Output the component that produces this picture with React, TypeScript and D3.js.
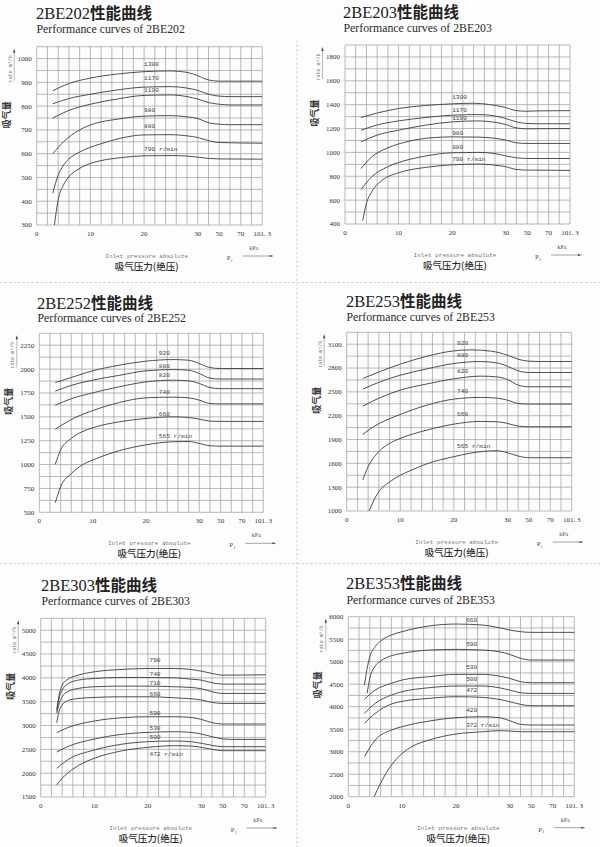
import React from "react";
import * as d3 from "d3";

type Pt = [number, number];

// --- shared axis data ---
const X_TICKS = [0, 10, 20, 30, 50, 70, 101.3];
const X_GRID = [...d3.range(0, 31, 2), 40, 50, 60, 70, 85.65, 101.3];
const X_BREAKS = [0, 30, 50, 70, 101.3];
const X_UNITS = [0, 15, 17, 19, 21];

// --- 2BE202 ---
const P202_SPEEDS = ["1300", "1170", "1100", "980", "880", "790 r/min"];
const P202_TICKS = [300, 400, 500, 600, 700, 800, 900, 1000];
const P202_LABEL_AT = [976, 921, 868, 786, 716, 619];
const P202_CURVES: Pt[][] = [
  [[3, 865], [6, 895], [10, 918], [15, 935], [20, 945], [25, 948], [28, 942], [30, 928], [40, 910], [50, 905], [60, 905], [101.3, 905]],
  [[3, 810], [6, 832], [10, 850], [15, 868], [20, 880], [25, 882], [28, 876], [30, 866], [40, 850], [50, 842], [60, 840], [101.3, 840]],
  [[3, 750], [6, 782], [10, 808], [15, 830], [20, 845], [25, 847], [28, 840], [30, 830], [40, 815], [50, 808], [60, 805], [101.3, 805]],
  [[3, 600], [5, 650], [8, 700], [11, 728], [15, 745], [20, 758], [25, 760], [28, 755], [30, 748], [40, 730], [50, 724], [60, 722], [101.3, 722]],
  [[3, 434], [4, 510], [5, 552], [6, 578], [8, 607], [10, 627], [12, 642], [16, 667], [20, 679], [25, 680], [28, 675], [30, 668], [40, 655], [50, 647], [101.3, 644]],
  [[3.3, 300], [4, 406], [5, 469], [6, 503], [8, 538], [10, 559], [12, 571], [16, 584], [20, 591], [25, 592], [28, 590], [30, 585], [40, 580], [50, 578], [101.3, 577]],
];

// --- 2BE203 ---
const P203_SPEEDS = ["1300", "1170", "1100", "980", "880", "790 r/min"];
const P203_TICKS = [400, 600, 800, 1000, 1200, 1400, 1600, 1800];
const P203_LABEL_AT = [1465, 1359, 1292, 1164, 1047, 949];
const P203_CURVES: Pt[][] = [
  [[3, 1292], [6, 1330], [10, 1368], [15, 1393], [20, 1407], [24, 1412], [27, 1401], [30, 1376], [40, 1350], [50, 1345], [60, 1348], [101.3, 1350]],
  [[3, 1186], [6, 1230], [10, 1264], [15, 1292], [20, 1312], [25, 1317], [28, 1305], [30, 1284], [40, 1256], [50, 1242], [60, 1240], [101.3, 1240]],
  [[3, 1089], [6, 1145], [10, 1186], [15, 1228], [20, 1256], [25, 1264], [28, 1252], [30, 1234], [40, 1205], [50, 1198], [101.3, 1200]],
  [[3, 865], [5, 963], [8, 1038], [12, 1094], [16, 1122], [20, 1130], [25, 1128], [28, 1118], [30, 1103], [40, 1080], [50, 1075], [101.3, 1075]],
  [[3, 690], [5, 796], [8, 880], [12, 941], [16, 977], [20, 997], [25, 1000], [28, 990], [30, 971], [40, 955], [50, 949], [101.3, 949]],
  [[3.3, 428], [4, 573], [5, 670], [7, 768], [10, 829], [15, 874], [20, 896], [25, 902], [28, 893], [30, 880], [40, 857], [50, 852], [101.3, 849]],
];

// --- 2BE252 ---
const P252_SPEEDS = ["920", "880", "820", "740", "660", "565 r/min"];
const P252_TICKS = [500, 750, 1000, 1250, 1500, 1750, 2000, 2250];
const P252_LABEL_AT = [2173, 2037, 1940, 1762, 1535, 1302];
const P252_CURVES: Pt[][] = [
  [[3, 1859], [6, 1912], [10, 1982], [15, 2041], [20, 2083], [25, 2100], [28, 2093], [30, 2058], [40, 2016], [50, 2006], [101.3, 2006]],
  [[3, 1769], [6, 1830], [10, 1884], [15, 1935], [20, 1982], [25, 1995], [28, 1988], [30, 1954], [40, 1905], [50, 1896], [101.3, 1896]],
  [[3, 1622], [6, 1690], [10, 1751], [15, 1815], [20, 1866], [25, 1884], [28, 1877], [30, 1849], [40, 1807], [50, 1795], [101.3, 1795]],
  [[3, 1371], [5, 1440], [7, 1500], [10, 1565], [15, 1650], [20, 1699], [25, 1706], [28, 1699], [30, 1675], [40, 1640], [50, 1636], [101.3, 1636]],
  [[3, 1002], [4, 1152], [6, 1274], [8, 1343], [10, 1385], [15, 1448], [20, 1483], [25, 1500], [28, 1493], [30, 1476], [40, 1455], [50, 1452], [101.3, 1452]],
  [[3, 601], [4, 768], [6, 905], [8, 995], [10, 1047], [15, 1145], [20, 1207], [25, 1239], [28, 1242], [30, 1221], [40, 1197], [50, 1193], [101.3, 1193]],
];

// --- 2BE253 ---
const P253_SPEEDS = ["920", "880", "820", "740", "660", "565 r/min"];
const P253_TICKS = [1000, 1300, 1600, 1900, 2200, 2500, 2800, 3100];
const P253_LABEL_AT = [3121, 2962, 2765, 2513, 2220, 1822];
const P253_CURVES: Pt[][] = [
  [[3, 2668], [6, 2750], [10, 2849], [15, 2949], [20, 3016], [23, 3029], [27, 3012], [30, 2962], [40, 2911], [50, 2886], [60, 2882], [101.3, 2882]],
  [[3, 2534], [6, 2620], [10, 2710], [15, 2790], [20, 2857], [25, 2882], [28, 2865], [30, 2823], [40, 2765], [50, 2744], [101.3, 2744]],
  [[3, 2321], [6, 2420], [10, 2522], [15, 2600], [20, 2664], [25, 2698], [28, 2689], [30, 2656], [40, 2585], [50, 2564], [101.3, 2564]],
  [[3, 1965], [5, 2061], [10, 2216], [15, 2333], [20, 2409], [25, 2430], [28, 2421], [30, 2396], [40, 2354], [50, 2346], [101.3, 2346]],
  [[3, 1391], [4, 1558], [6, 1747], [8, 1851], [10, 1914], [15, 2019], [20, 2094], [25, 2128], [28, 2124], [30, 2103], [40, 2069], [50, 2061], [101.3, 2061]],
  [[4.2, 1000], [5, 1125], [6, 1244], [8, 1365], [10, 1450], [12, 1512], [15, 1595], [20, 1684], [25, 1747], [28, 1759], [30, 1734], [40, 1692], [50, 1671], [101.3, 1671]],
];

// --- 2BE303 ---
const P303_SPEEDS = ["790", "740", "710", "660", "590", "530", "500", "472 r/min"];
const P303_TICKS = [1500, 2000, 2500, 3000, 3500, 4000, 4500, 5000];
const P303_LABEL_AT = [4372, 4092, 3904, 3659, 3268, 2954, 2765, 2402];
const P303_CURVES: Pt[][] = [
  [[3, 3340], [3.5, 3673], [4, 3848], [5, 3966], [7, 4057], [10, 4127], [15, 4176], [20, 4197], [25, 4197], [28, 4176], [30, 4141], [40, 4092], [50, 4057], [101.3, 4065]],
  [[3, 3300], [3.5, 3603], [4, 3743], [5, 3869], [7, 3953], [10, 3987], [15, 4008], [20, 4008], [25, 4001], [28, 3973], [30, 3953], [40, 3897], [50, 3869], [101.3, 3869]],
  [[3, 3260], [3.5, 3480], [4, 3603], [5, 3708], [7, 3778], [10, 3813], [15, 3827], [20, 3827], [25, 3813], [28, 3799], [30, 3771], [40, 3708], [50, 3673], [101.3, 3673]],
  [[3, 3059], [3.5, 3324], [4, 3429], [5, 3520], [7, 3568], [10, 3589], [15, 3603], [20, 3603], [25, 3582], [30, 3534], [40, 3485], [50, 3464], [101.3, 3464]],
  [[3, 2849], [5, 2954], [10, 3094], [15, 3163], [20, 3184], [25, 3184], [28, 3170], [30, 3128], [40, 3059], [50, 3031], [101.3, 3031]],
  [[3, 2444], [5, 2556], [10, 2716], [15, 2814], [20, 2856], [25, 2870], [28, 2856], [30, 2821], [40, 2765], [50, 2720], [60, 2709], [101.3, 2709]],
  [[3, 2102], [5, 2277], [10, 2486], [15, 2605], [20, 2661], [25, 2675], [28, 2661], [30, 2626], [40, 2584], [50, 2556], [101.3, 2556]],
  [[3, 1753], [4, 1893], [5, 1997], [7, 2158], [10, 2312], [15, 2465], [20, 2542], [25, 2577], [28, 2570], [30, 2542], [40, 2500], [50, 2472], [101.3, 2472]],
];

// --- 2BE353 ---
const P353_SPEEDS = ["660", "590", "530", "500", "472", "420", "372 r/min"];
const P353_TICKS = [2000, 2500, 3000, 3500, 4000, 4500, 5000, 5500, 6000];
const P353_LABEL_AT = [5926, 5393, 4889, 4630, 4370, 3926, 3607];
const P353_CURVES: Pt[][] = [
  [[3, 4481], [3.5, 4852], [4, 5111], [5, 5333], [6, 5459], [8, 5593], [10, 5667], [15, 5793], [20, 5837], [25, 5815], [28, 5756], [30, 5704], [40, 5667], [50, 5652], [101.3, 5652]],
  [[3.5, 4296], [4, 4630], [5, 4904], [6, 5015], [8, 5133], [10, 5185], [15, 5259], [20, 5274], [25, 5259], [28, 5222], [30, 5163], [40, 5074], [50, 5037], [101.3, 5037]],
  [[3, 4163], [5, 4370], [8, 4519], [10, 4593], [15, 4667], [20, 4719], [25, 4719], [28, 4681], [30, 4630], [40, 4556], [50, 4533], [101.3, 4533]],
  [[3, 3852], [5, 4074], [8, 4259], [10, 4333], [15, 4422], [20, 4459], [25, 4459], [28, 4422], [30, 4370], [40, 4311], [50, 4296], [101.3, 4296]],
  [[3, 3630], [5, 3852], [8, 4059], [10, 4119], [15, 4185], [20, 4222], [25, 4207], [28, 4163], [30, 4111], [40, 4052], [50, 4022], [101.3, 4022]],
  [[3, 2889], [5, 3259], [8, 3481], [10, 3556], [15, 3681], [20, 3756], [25, 3778], [28, 3756], [30, 3689], [40, 3607], [50, 3593], [101.3, 3593]],
  [[4.8, 2000], [6, 2300], [7, 2520], [8, 2700], [10, 2960], [12, 3125], [15, 3259], [20, 3393], [25, 3444], [28, 3467], [30, 3459], [40, 3444], [50, 3444], [101.3, 3444]],
];

type PanelCfg = {
  model: string;
  left: number;
  top: number;
  width: number;
  height: number;
  yDomain: [number, number];
  yStep: number;
  yTicks: number[];
  curves: Pt[][];
  speeds: string[];
  labelAt: number[];
  labelX: number;
  titleX: number;
  titleY: number;
  subY: number;
};

const PANELS: PanelCfg[] = [
  { model: "2BE202", left: 36.7, top: 46.7, width: 225.5, height: 178.3, yDomain: [300, 1050], yStep: 50, yTicks: P202_TICKS, curves: P202_CURVES, speeds: P202_SPEEDS, labelAt: P202_LABEL_AT, labelX: 20, titleX: 36, titleY: 19, subY: 33 },
  { model: "2BE203", left: 345, top: 45, width: 225, height: 179, yDomain: [400, 1900], yStep: 100, yTicks: P203_TICKS, curves: P203_CURVES, speeds: P203_SPEEDS, labelAt: P203_LABEL_AT, labelX: 20, titleX: 343, titleY: 18, subY: 32 },
  { model: "2BE252", left: 39.3, top: 333.3, width: 224, height: 179, yDomain: [500, 2375], yStep: 125, yTicks: P252_TICKS, curves: P252_CURVES, speeds: P252_SPEEDS, labelAt: P252_LABEL_AT, labelX: 22.4, titleX: 37, titleY: 308.5, subY: 322 },
  { model: "2BE253", left: 346.7, top: 332.3, width: 225, height: 178.7, yDomain: [1000, 3250], yStep: 150, yTicks: P253_TICKS, curves: P253_CURVES, speeds: P253_SPEEDS, labelAt: P253_LABEL_AT, labelX: 20.6, titleX: 346, titleY: 307, subY: 321 },
  { model: "2BE303", left: 40.7, top: 618.3, width: 225, height: 178.7, yDomain: [1500, 5250], yStep: 250, yTicks: P303_TICKS, curves: P303_CURVES, speeds: P303_SPEEDS, labelAt: P303_LABEL_AT, labelX: 20.3, titleX: 41, titleY: 590.5, subY: 605 },
  { model: "2BE353", left: 348.3, top: 616.7, width: 226, height: 180, yDomain: [2000, 6000], yStep: 250, yTicks: P353_TICKS, curves: P353_CURVES, speeds: P353_SPEEDS, labelAt: P353_LABEL_AT, labelX: 21.9, titleX: 346, titleY: 589, subY: 604 },
];

const SERIF = "'Liberation Serif', 'Noto Sans CJK SC', serif";
const MONO = "'Liberation Mono', monospace";
const CJK = "'Noto Sans CJK SC', sans-serif";
const GRID = "#9c9c9c";
const INK = "#3c3c3c";

function Panel({ p }: { p: PanelCfg }) {
  const L = p.left, T = p.top, B = p.top + p.height, R = p.left + p.width;
  const u = p.width / 21;
  const x = d3.scaleLinear().domain(X_BREAKS).range(X_UNITS.map((k) => L + k * u));
  const y = d3.scaleLinear().domain(p.yDomain).range([B, T]);
  const yGrid = d3.range(p.yDomain[0], p.yDomain[1] + 1e-6, p.yStep);
  const line = d3
    .line<Pt>()
    .x((d) => x(d[0]))
    .y((d) => y(d[1]))
    .curve(d3.curveMonotoneX);

  return (
    <g>
      <text x={p.titleX} y={p.titleY} fontFamily={SERIF} fontSize={16.5} fill="#222">
        {p.model}
        <tspan fontFamily={CJK} fontWeight={600} fontSize={15.5}>性能曲线</tspan>
      </text>
      <text x={p.titleX + 0.5} y={p.subY} fontFamily={SERIF} fontSize={11.8} fill="#2a2a2a">
        {`Performance curves of ${p.model}`}
      </text>

      {/* grid */}
      {yGrid.map((v) => (
        <line key={"h" + v} x1={L} x2={R} y1={y(v)} y2={y(v)} stroke={GRID} strokeWidth={0.7} />
      ))}
      {X_GRID.map((v) => (
        <line key={"v" + v} x1={x(v)} x2={x(v)} y1={T} y2={B} stroke={GRID} strokeWidth={0.7} />
      ))}

      {/* ticks */}
      {p.yTicks.map((v) => (
        <text key={"yt" + v} x={L - 5} y={y(v) + 2.4} textAnchor="end" fontFamily={SERIF} fontSize={7} fill="#333">
          {v}
        </text>
      ))}
      {X_TICKS.map((v) => (
        <text key={"xt" + v} x={x(v)} y={B + 11} textAnchor="middle" fontFamily={SERIF} fontSize={7} fill="#333">
          {v === 101.3 ? "101. 3" : v}
        </text>
      ))}

      {/* curves */}
      {p.curves.map((c, i) => (
        <path key={"c" + i} d={line(c) || ""} fill="none" stroke={INK} strokeWidth={0.9} />
      ))}
      {p.speeds.map((s, i) => (
        <text key={"s" + i} x={x(p.labelX)} y={y(p.labelAt[i]) + 2.2} fontFamily={MONO} fontSize={6.2} fill="#444">
          {s}
        </text>
      ))}

      {/* y axis title */}
      <text
        transform={`translate(${L - 27},${T + 68}) rotate(-90)`}
        textAnchor="middle"
        fontFamily={CJK}
        fontWeight={600}
        fontSize={9}
        fill="#333"
      >
        吸气量
      </text>
      <text
        transform={`translate(${L - 25},${T + 22}) rotate(-90)`}
        textAnchor="middle"
        fontFamily={MONO}
        fontSize={5}
        fill="#777"
      >
        rate m³/h
      </text>
      <line x1={L - 22.5} x2={L - 22.5} y1={T + 34} y2={T + 4} stroke="#777" strokeWidth={0.5} />
      <path d={`M${L - 22.5},${T + 2} l-1.2,4 l2.4,0 z`} fill="#444" />

      {/* x axis title */}
      <text x={L + 110} y={B + 33} textAnchor="middle" fontFamily={MONO} fontSize={6} fill="#777">
        Inlet pressure absolute
      </text>
      <text x={L + 110} y={B + 45} textAnchor="middle" fontFamily={CJK} fontWeight={500} fontSize={9.5} fill="#2a2a2a">
        吸气压力(绝压)
      </text>
      <text x={L + 190} y={B + 35} fontFamily={SERIF} fontSize={7} fill="#555">
        P<tspan fontSize={4.5} dy={1.5}>1</tspan>
      </text>
      <text x={L + 217} y={B + 25} textAnchor="middle" fontFamily={SERIF} fontSize={6} fill="#555">
        kPa
      </text>
      <line x1={L + 206} x2={L + 234} y1={B + 31} y2={B + 31} stroke="#666" strokeWidth={0.6} />
      <path d={`M${L + 237},${B + 31} l-4,-1 l0,2 z`} fill="#444" />
    </g>
  );
}

export default function App() {
  return (
    <svg
      width={600}
      height={847}
      style={{ position: "absolute", left: 0, top: 0, background: "#fdfdfd" }}
    >
      <rect x={0} y={0} width={600} height={847} fill="#fdfdfd" />
      <line x1={0} x2={600} y1={282.5} y2={282.5} stroke="#bbb" strokeWidth={0.7} strokeDasharray="2.5,2" />
      <line x1={0} x2={600} y1={563.5} y2={563.5} stroke="#bbb" strokeWidth={0.7} strokeDasharray="2.5,2" />
      <line x1={297} x2={297} y1={40} y2={847} stroke="#bbb" strokeWidth={0.7} strokeDasharray="2.5,2" />
      {PANELS.map((p) => (
        <Panel key={p.model} p={p} />
      ))}
    </svg>
  );
}
